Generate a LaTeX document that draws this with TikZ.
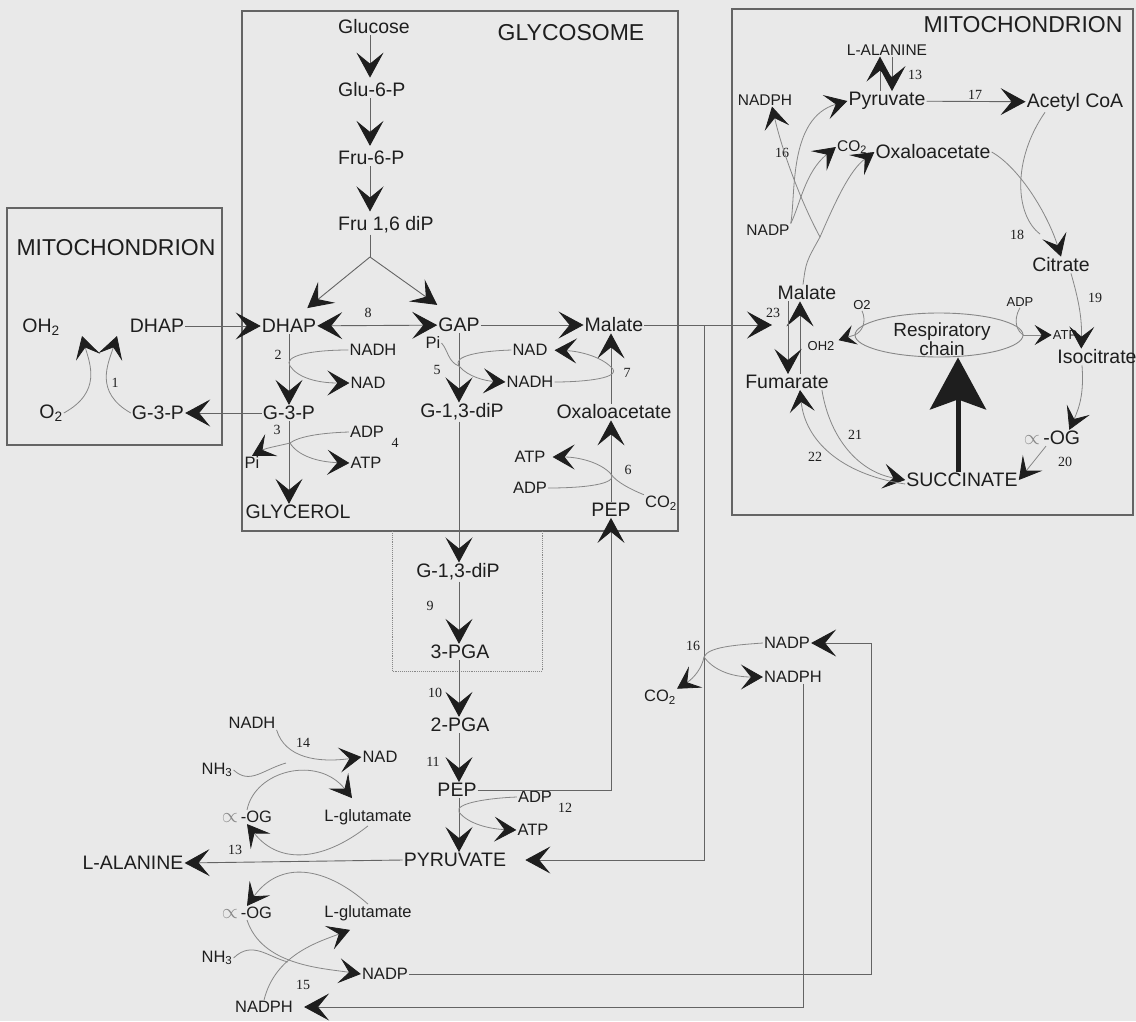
\documentclass[tikz,border=0pt]{standalone}
\usepackage{fontspec}
\setmainfont{Liberation Sans}
\newfontfamily\numfont{Liberation Serif}
\usetikzlibrary{arrows.meta,shapes.geometric,positioning,calc}

\definecolor{bgc}{RGB}{233,233,233}
\definecolor{inkc}{RGB}{30,30,30}
\definecolor{linec}{RGB}{100,100,100}
\definecolor{curvec}{RGB}{135,135,135}
\definecolor{headc}{RGB}{30,30,30}
\newcommand{\ogsym}{{\color{curvec}\fontsize{22}{22}\selectfont$\propto$}\,}

\begin{document}
\begin{tikzpicture}[x=1pt,y=-1pt,
  ttl/.style={font=\fontsize{23}{26}\selectfont, text=inkc, inner sep=1pt},
  lab/.style={font=\fontsize{19.5}{22}\selectfont, text=inkc, inner sep=1pt},
  cof/.style={font=\fontsize{16.5}{18}\selectfont, text=inkc, inner sep=1pt},
  rcof/.style={font=\fontsize{15.5}{17}\selectfont, text=inkc, inner sep=1pt},
  sml/.style={font=\fontsize{13}{14}\selectfont, text=inkc, inner sep=1pt},
  num/.style={font=\numfont\fontsize{14}{15}\selectfont, text=inkc, inner sep=1pt},
  compart/.style={draw=linec, line width=1.1pt},
  ln/.style={draw=linec, line width=0.9pt},
  cv/.style={draw=curvec, line width=0.8pt},
  arr/.style={ln, -{Stealth[length=25pt,width=27pt,inset=11pt,color=headc]}},
  arr2/.style={ln, {Stealth[length=25pt,width=27pt,inset=11pt,color=headc]}-{Stealth[length=25pt,width=27pt,inset=11pt,color=headc]}},
  carr/.style={cv, -{Stealth[length=22pt,width=25pt,inset=10pt,color=headc]}},
  arrS/.style={cv, -{Stealth[length=17pt,width=20pt,inset=7pt,color=headc]}},
  bigarr/.style={draw=headc, line width=5pt, -{Stealth[length=52pt,width=56pt,inset=10pt]}}]

 \fill[bgc] (0,0) rectangle (1136,1021);
 \useasboundingbox (0,0) rectangle (1136,1021);

 % compartments
 \draw[compart] (7,208) rectangle (222,445);
 \draw[compart] (242,11) rectangle (678,531);
 \draw[compart] (732,9) rectangle (1133,515);
 \draw[curvec, densely dotted, line width=0.9pt] (392,531) -- (392,671) -- (542,671) -- (542,531);

 \node[ttl] (mitoL) at (116,248) {MITOCHONDRION};
 \node[ttl] (glyco) at (571,33) {GLYCOSOME};
 \node[ttl] (mitoR) at (1023,25) {MITOCHONDRION};

 %left mitochondrion
 \node[lab] (ohL) at (41,327) {OH\textsubscript{2}};
 \node[lab] (dhapL) at (157,326) {DHAP};
 \node[lab] (o2L) at (51,413) {O\textsubscript{2}};
 \node[lab] (g3pL) at (158,413) {G-3-P};

 %glycosome
 \foreach \n/\y/\t in {glc/27/Glucose, g6p/90/Glu-6-P, f6p/158/Fru-6-P, fdp/225/{Fru 1,6 diP}}
   \node[lab, anchor=west] (\n) at (337,\y) {\t};
 \node[lab] (dhap) at (289,326) {DHAP};
 \node[lab] (gap) at (459,325) {GAP};
 \node[lab] (malG) at (614,325) {Malate};
 \node[lab] (g3p) at (289,413) {G-3-P};
 \node[lab] (gdp) at (462,412) {G-1,3-diP};
 \node[lab] (oaaG) at (614,412) {Oxaloacetate};
 \node[lab] (glyc) at (298,512) {GLYCEROL};
 \node[lab] (pepG) at (611,510) {PEP};

 \node[cof] (nadh1) at (373,350) {NADH};
 \node[cof] (nad1) at (368,383) {NAD};
 \node[cof] (adp1) at (367,432) {ADP};
 \node[cof] (atp1) at (366,463) {ATP};
 \node[cof] (pi1) at (252,463) {Pi};
 \node[cof] (pi2) at (433,343) {Pi};
 \node[cof] (nad2) at (530,350) {NAD};
 \node[cof] (nadh2) at (530,382) {NADH};
 \node[cof] (atp2) at (530,457) {ATP};
 \node[cof] (adp2) at (530,488) {ADP};
 \node[cof] (co2a) at (661,503) {CO\textsubscript{2}};

 %cytosol
 \node[lab] (gdp2) at (458,572) {G-1,3-diP};
 \node[lab] (pga3) at (460,652) {3-PGA};
 \node[lab] (pga2) at (460,725) {2-PGA};
 \node[lab] (pep) at (457,790) {PEP};
 \node[cof] (adp3) at (535,797) {ADP};
 \node[cof] (atp3) at (533,830) {ATP};
 \node[lab] (pyr) at (455,860) {PYRUVATE};

 \node[cof] (nadh3) at (252,723) {NADH};
 \node[cof] (nad3) at (380,757) {NAD};
 \node[cof] (nh3a) at (217,770) {NH\textsubscript{3}};
 \node[cof] (aogA) at (247,817) {\ogsym-OG};
 \node[cof] (gluA) at (368,817) {L-glutamate};
 \node[lab] (alaL) at (133,863) {L-ALANINE};
 \node[cof] (aogB) at (247,913) {\ogsym-OG};
 \node[cof] (gluB) at (368,913) {L-glutamate};
 \node[cof] (nh3b) at (217,958) {NH\textsubscript{3}};
 \node[cof] (nadpB) at (385,974) {NADP};
 \node[cof] (nadphB) at (264,1007) {NADPH};

 \node[cof] (nadpM) at (787,643) {NADP};
 \node[cof] (nadphM) at (793,677) {NADPH};
 \node[cof] (co2b) at (660,697) {CO\textsubscript{2}};

 %right mitochondrion
 \node[rcof] (alaR) at (887,50) {L-ALANINE};
 \node[rcof] (nadphR) at (765,100) {NADPH};
 \node[lab] (pyrR) at (887,101) {Pyruvate};
 \node[lab] (acoa) at (1075,102) {Acetyl CoA};
 \node[rcof] (co2R) at (852,147) {CO\textsubscript{2}};
 \node[lab] (oaaR) at (933,152) {Oxaloacetate};
 \node[rcof] (nadpR) at (768,230) {NADP};
 \node[lab] (citr) at (1061,265) {Citrate};
 \node[lab] (malR) at (807,293) {Malate};
 \node[sml] (o2R) at (862,305) {O2};
 \node[sml] (adpR) at (1020,302) {ADP};
 \node[sml] (ohR) at (821,346) {OH2};
 \node[sml] (atpR) at (1065,335) {ATP};
 \node[lab] (isoc) at (1097,357) {Isocitrate};
 \node[lab] (fum) at (787,382) {Fumarate};
 \node[lab] (aogR) at (1052,438) {\ogsym-OG};
 \node[lab] (succ) at (962,480) {SUCCINATE};
 \node[draw=curvec, line width=0.9pt, ellipse, minimum width=168pt, minimum height=44pt] (resp) at (939,335) {};
 \node[lab, align=center, font=\fontsize{19}{14}\selectfont] (resptx) at (942,339) {Respiratory\\chain};

 %reaction numbers
 \foreach \n/\x/\y/\t in {n1/115/383/1, n2/278/355/2, n3/277/430/3, n4/395/443/4, n5/437/370/5,
     n6/628/470/6, n7/627/373/7, n8/368/313/8, n9/430/606/9, n10/435/693/10, n11/433/762/11,
     n12/565/808/12, n13a/915/75/13, n13b/235/850/13, n14/303/743/14, n15/303/985/15,
     n16a/782/153/16, n16b/693/646/16, n17/975/95/17, n18/1017/235/18, n19/1095/298/19,
     n20/1065/462/20, n21/855/435/21, n22/815/457/22, n23/773/313/23}
   \node[num] (\n) at (\x,\y) {\t};

 % helper points
 \coordinate (colA) at (370,0);
 \coordinate (colB) at (459,0);
 \coordinate (colE) at (611,0);
 \coordinate (split) at (370,257);
 \coordinate (jx) at (704,325);
 \coordinate (m23) at (772,325);
 \coordinate (t1a) at (82,336);
 \coordinate (t1b) at (117,336);
 \coordinate (j2) at (290,366);
 \coordinate (j3) at (290,443);
 \coordinate (j5) at (459,366);
 \coordinate (j7) at (611,367);
 \coordinate (j6) at (611,474);
 \coordinate (j12) at (459,812);
 \coordinate (j16b) at (704,657);
 \coordinate (j16a) at (820,237);
 \coordinate (rx) at (871,0);
 \coordinate (dx) at (803,0);
 \coordinate (bx) at (958,0);
 \coordinate (m14) at (286,763);
 \coordinate (m15) at (288,962);
 \coordinate (m18) at (1040,234);

 % lines
 \foreach \a/\b in {glc/g6p, g6p/f6p, f6p/fdp}
   \draw[arr, shorten >=4pt] (\a.south -| colA) -- (\b.north -| colA);
 \draw[ln] (fdp.south -| colA) -- (split);
 \draw[arr] (split) -- ([xshift=-10pt,yshift=10pt]dhap.north east);
 \draw[arr] (split) -- ([yshift=12pt]gap.north west);

 \draw[arr] (dhapL) -- (dhap);
 \draw[arr] (g3p) -- (g3pL);
 \draw[arr2] (dhap) -- (gap);
 \draw[arr] (gap) -- (malG);
 \draw[arr] (malG) -- (m23);
 \draw[arr, shorten >=18pt] (jx) |- (pyr.east);

 % 1
 \draw[carr] (o2L.east) .. controls (102,392) and (90,364) .. (t1a);
 \draw[carr] (g3pL.west) .. controls (94,392) and (108,364) .. (t1b);
 % 2
 \draw[arr] (dhap) -- (g3p);
 \draw[carr] (nadh1.west) .. controls (310,350) and (283,356) .. (j2) .. controls (298,378) and (318,383) .. (nad1.west);
 % 3, 4
 \draw[arr] (g3p.south) -- (g3p.south |- glyc.north);
 \draw[cv] (adp1.west) .. controls (318,433) and (298,437) .. (j3);
 \draw[carr] (j3) .. controls (278,446) and (266,448) .. (pi1.north);
 \draw[carr] (j3) .. controls (298,456) and (318,462) .. (atp1.west);
 % 5
 \draw[arr] (gap.south -| colB) -- (gdp.north -| colB);
 \draw[carr] (nad2.west) .. controls (480,351) and (452,356) .. (j5) .. controls (468,377) and (486,381) .. (nadh2.west);
 \draw[cv] (pi2.east) .. controls (448,350) and (448,362) .. (j5);
 % 7
 \draw[arr] (oaaG.north -| colE) -- (malG.south -| colE);
 \draw[carr, shorten >=6pt] (nadh2.east) .. controls (585,382) and (624,378) .. (j7) .. controls (600,356) and (578,351) .. (nad2.east);
 % 6
 \draw[arr] (pepG.north -| colE) -- (oaaG.south -| colE);
 \draw[carr, shorten >=6pt] (adp2.east) .. controls (585,488) and (618,484) .. (j6) .. controls (600,462) and (578,457) .. (atp2.east);
 \draw[cv] (co2a.north west) .. controls (632,490) and (616,482) .. (j6);
 \draw[arr] (pep.east) -| (pepG.south);

 % 9 - 12
 \draw[arr] (gdp.south -| colB) -- (gdp2.north -| colB);
 \foreach \a/\b in {gdp2/pga3, pga3/pga2, pga2/pep, pep/pyr}
   \draw[arr] (\a.south -| colB) -- (\b.north -| colB);
 \draw[carr] (adp3.west) .. controls (490,798) and (454,803) .. (j12) .. controls (468,824) and (490,829) .. (atp3.west);

 % 16 (cytosol)
 \draw[cv] (nadpM.west) .. controls (735,645) and (708,647) .. (j16b);
 \draw[carr] (j16b) .. controls (715,672) and (735,677) .. (nadphM.west);
 \draw[carr] (j16b) .. controls (702,668) and (694,678) .. (co2b.north east);
 \draw[arr] (nadpB.east) -- (nadpB.east -| rx) -- (nadpM.east -| rx) -- (nadpM.east);
 \draw[arr, shorten >=10pt] (nadphM.south -| dx) |- (nadphB.east);

 % 13, 14, 15
 \draw[arr] (pyr.west) -- (alaL.east);
 \draw[carr] (gluA.south) .. controls (325,860) and (280,866) .. (aogA.south);
 \draw[carr] (gluB.north) .. controls (325,866) and (280,860) .. (aogB.north);
 \draw[carr] (nadh3.south east) .. controls (285,758) and (318,763) .. (nad3.west);
 \draw[carr] (aogA.north) .. controls (255,770) and (318,755) .. ([xshift=-16pt,yshift=10pt]gluA.north);
 \draw[cv] (nh3a.east) .. controls (250,785) and (262,770) .. (m14);
 \draw[carr] (aogB.south) .. controls (262,965) and (320,968) .. (nadpB.west);
 \draw[carr] (nadphB.north) .. controls (275,955) and (318,942) .. ([xshift=-18pt,yshift=-8pt]gluB.south);
 \draw[cv] (nh3b.east) .. controls (252,940) and (268,957) .. (m15);

 % mitochondrion reactions
 \draw[arr] ([xshift=-7pt]pyrR.north) -- ([xshift=-7pt]alaR.south);
 \draw[arr] ([xshift=5pt]alaR.south) -- ([xshift=5pt]pyrR.north);
 \draw[arr] (pyrR) -- (acoa);
 \draw[cv] ([xshift=-4pt]malR.north) .. controls (806,262) .. (j16a);
 \draw[carr] (j16a) .. controls (836,200) and (850,170) .. (oaaR.west);
 \draw[carr] (j16a) .. controls (800,200) and (782,150) .. ([xshift=7pt]nadphR.south);
 \draw[carr] (nadpR.north east) .. controls (800,205) and (805,172) .. (co2R.west);
 \draw[carr] (nadpR.north east) .. controls (796,195) and (788,118) .. (pyrR.west);
 \draw[carr] (oaaR.east) .. controls (1020,168) and (1048,215) .. (citr.north);
 \draw[cv] ([xshift=-30pt]acoa.south) .. controls (1012,160) and (1015,215) .. (m18);
 \draw[carr] ([xshift=10pt]citr.south) .. controls (1078,298) and (1082,316) .. ([xshift=25pt]isoc.north west);
 \draw[carr] ([xshift=-15pt]isoc.south) .. controls (1084,392) and (1080,406) .. ([xshift=-12pt]aogR.north east);
 \draw[carr] ([xshift=-6pt]aogR.south) -- (succ.east);
 \draw[carr] ([xshift=-8pt]fum.south east) .. controls (830,440) and (860,472) .. (succ.west);
 \draw[carr] ([yshift=-4pt]succ.west) .. controls (840,474) and (805,440) .. ([xshift=13pt]fum.south);
 \draw[arr] ([xshift=13pt]fum.north) -- ([xshift=-7pt]malR.south);
 \draw[arr] ([xshift=-19pt]malR.south) -- ([xshift=1pt]fum.north);

 % respiratory chain
 \draw[arrS] (resp.west) -- ([xshift=3pt]ohR.north east);
 \draw[cv] (o2R.south) .. controls (867,322) and (862,332) .. (resp.west);
 \draw[arrS] (resp.east) -- (atpR.west);
 \draw[cv] (adpR.south) .. controls (1012,322) and (1018,332) .. (resp.east);
 \draw[bigarr] (succ.north -| bx) -- (resp.south -| bx);

\end{tikzpicture}
\end{document}
